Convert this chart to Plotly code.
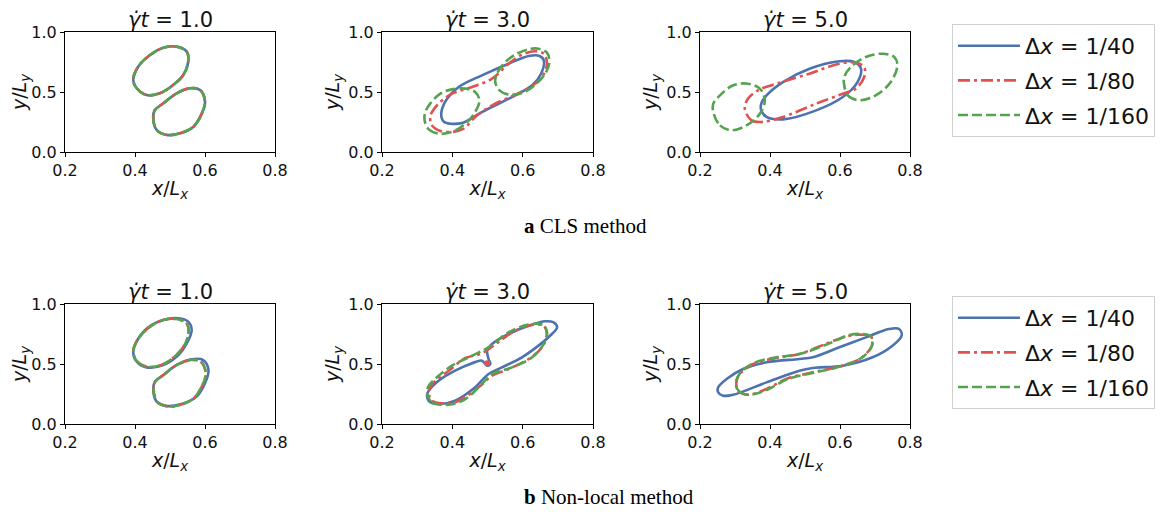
import plotly.graph_objects as go

FONT = "DejaVu Sans"
SERIF = "Liberation Serif"

SERIES = ["Δ<i>x</i> = 1/40", "Δ<i>x</i> = 1/80", "Δ<i>x</i> = 1/160"]
COLORS = ["#4C72B0", "#E05252", "#55A24F"]
DASHES = ["solid", "12px,4px,3px,4px", "10px,4px"]
TIMES = ["1.0", "3.0", "5.0"]
X_TICKS = [0.2, 0.4, 0.6, 0.8]
Y_TICKS = [0.0, 0.5, 1.0]

# ---------------- CLS method, t = 1 (all resolutions nearly coincide) ----------------
CLS1_UP_X = [0.395, 0.405, 0.433, 0.471, 0.509, 0.538, 0.552, 0.548, 0.519, 0.481, 0.443, 0.409, 0.395]
CLS1_UP_Y = [0.600, 0.531, 0.475, 0.489, 0.558, 0.642, 0.753, 0.836, 0.878, 0.869, 0.808, 0.711, 0.600]
CLS1_LO_X = [0.452, 0.462, 0.491, 0.529, 0.567, 0.591, 0.600, 0.586, 0.557, 0.519, 0.481, 0.457, 0.452]
CLS1_LO_Y = [0.294, 0.183, 0.142, 0.156, 0.211, 0.322, 0.419, 0.517, 0.531, 0.489, 0.406, 0.350, 0.294]

# ---------------- CLS method, t = 3 ----------------
CLS3_BLUE_X = [0.369, 0.375, 0.395, 0.430, 0.484, 0.579, 0.627, 0.652, 0.660, 0.648, 0.617, 0.560, 0.484, 0.418, 0.385, 0.371, 0.369]
CLS3_BLUE_Y = [0.292, 0.255, 0.236, 0.244, 0.333, 0.472, 0.556, 0.650, 0.764, 0.800, 0.800, 0.736, 0.639, 0.542, 0.444, 0.361, 0.292]
CLS3_RED_X = [0.337, 0.342, 0.366, 0.399, 0.432, 0.465, 0.513, 0.579, 0.622, 0.655, 0.669, 0.660, 0.636, 0.598, 0.560, 0.513, 0.456, 0.399, 0.361, 0.342, 0.337]
CLS3_RED_Y = [0.292, 0.222, 0.175, 0.167, 0.194, 0.292, 0.389, 0.478, 0.542, 0.625, 0.736, 0.819, 0.839, 0.811, 0.736, 0.611, 0.542, 0.486, 0.403, 0.333, 0.292]
CLS3_GREEN_A_X = [0.321, 0.333, 0.361, 0.399, 0.437, 0.465, 0.477, 0.465, 0.437, 0.399, 0.366, 0.337, 0.323, 0.321]
CLS3_GREEN_A_Y = [0.264, 0.189, 0.153, 0.167, 0.236, 0.333, 0.431, 0.500, 0.528, 0.522, 0.486, 0.403, 0.333, 0.264]
CLS3_GREEN_B_X = [0.522, 0.534, 0.560, 0.598, 0.636, 0.664, 0.676, 0.669, 0.645, 0.617, 0.579, 0.546, 0.527, 0.522]
CLS3_GREEN_B_Y = [0.583, 0.514, 0.478, 0.492, 0.561, 0.653, 0.750, 0.828, 0.861, 0.856, 0.811, 0.736, 0.653, 0.583]

# ---------------- CLS method, t = 5 ----------------
CLS5_BLUE_X = [0.375, 0.390, 0.437, 0.532, 0.608, 0.650, 0.660, 0.641, 0.598, 0.513, 0.437, 0.390, 0.375, 0.375]
CLS5_BLUE_Y = [0.347, 0.292, 0.272, 0.347, 0.458, 0.583, 0.694, 0.750, 0.756, 0.694, 0.583, 0.472, 0.403, 0.347]
CLS5_RED_X = [0.328, 0.347, 0.375, 0.437, 0.532, 0.608, 0.645, 0.669, 0.669, 0.645, 0.598, 0.513, 0.418, 0.366, 0.337, 0.328]
CLS5_RED_Y = [0.361, 0.264, 0.250, 0.292, 0.403, 0.486, 0.528, 0.625, 0.708, 0.744, 0.736, 0.653, 0.569, 0.514, 0.444, 0.361]
CLS5_GREEN_A_X = [0.238, 0.257, 0.290, 0.333, 0.371, 0.385, 0.371, 0.337, 0.295, 0.257, 0.238, 0.238]
CLS5_GREEN_A_Y = [0.333, 0.222, 0.181, 0.222, 0.319, 0.431, 0.528, 0.569, 0.556, 0.472, 0.403, 0.333]
CLS5_GREEN_B_X = [0.612, 0.622, 0.655, 0.702, 0.745, 0.764, 0.755, 0.721, 0.674, 0.631, 0.612, 0.612]
CLS5_GREEN_B_Y = [0.556, 0.472, 0.431, 0.472, 0.583, 0.722, 0.792, 0.819, 0.792, 0.708, 0.625, 0.556]

# ---------------- Non-local method, t = 1 ----------------
NL1_BLUE_UP_X = [0.395, 0.405, 0.433, 0.481, 0.524, 0.548, 0.562, 0.552, 0.524, 0.481, 0.438, 0.407, 0.395]
NL1_BLUE_UP_Y = [0.603, 0.519, 0.472, 0.492, 0.575, 0.672, 0.783, 0.853, 0.881, 0.867, 0.806, 0.700, 0.603]
NL1_BLUE_LO_X = [0.452, 0.462, 0.491, 0.533, 0.576, 0.600, 0.610, 0.595, 0.562, 0.519, 0.481, 0.457, 0.452]
NL1_BLUE_LO_Y = [0.297, 0.186, 0.150, 0.167, 0.228, 0.339, 0.450, 0.533, 0.539, 0.492, 0.408, 0.353, 0.297]
NL1_UP_X = [0.395, 0.405, 0.433, 0.476, 0.514, 0.540, 0.553, 0.547, 0.517, 0.478, 0.441, 0.408, 0.395]
NL1_UP_Y = [0.603, 0.525, 0.478, 0.492, 0.565, 0.650, 0.760, 0.840, 0.875, 0.865, 0.806, 0.705, 0.603]
NL1_LO_X = [0.453, 0.463, 0.492, 0.530, 0.568, 0.593, 0.602, 0.588, 0.558, 0.519, 0.481, 0.458, 0.453]
NL1_LO_Y = [0.297, 0.186, 0.147, 0.160, 0.215, 0.325, 0.425, 0.520, 0.533, 0.490, 0.408, 0.353, 0.297]

# ---------------- Non-local method, t = 3 ----------------
NL3_BLUE_X = [0.328, 0.337, 0.366, 0.408, 0.465, 0.503, 0.541, 0.598, 0.645, 0.683, 0.698, 0.688, 0.664, 0.617, 0.560, 0.513, 0.499, 0.503, 0.508, 0.499, 0.484, 0.456, 0.408, 0.361, 0.333, 0.328]
NL3_BLUE_Y = [0.236, 0.181, 0.167, 0.194, 0.306, 0.417, 0.472, 0.556, 0.653, 0.750, 0.806, 0.847, 0.856, 0.819, 0.750, 0.667, 0.611, 0.542, 0.500, 0.486, 0.528, 0.506, 0.444, 0.361, 0.278, 0.236]
NL3_RED_X = [0.333, 0.342, 0.371, 0.408, 0.475, 0.513, 0.560, 0.617, 0.655, 0.669, 0.660, 0.631, 0.579, 0.530, 0.484, 0.437, 0.390, 0.352, 0.337, 0.333]
NL3_RED_Y = [0.250, 0.194, 0.172, 0.181, 0.306, 0.403, 0.458, 0.542, 0.639, 0.750, 0.819, 0.828, 0.778, 0.680, 0.589, 0.550, 0.444, 0.361, 0.306, 0.250]
NL3_RED_DOT_X = [0.499]
NL3_RED_DOT_Y = [0.506]
NL3_GREEN_X = [0.328, 0.342, 0.390, 0.437, 0.484, 0.513, 0.570, 0.627, 0.660, 0.669, 0.655, 0.617, 0.560, 0.503, 0.456, 0.399, 0.356, 0.333, 0.328]
NL3_GREEN_Y = [0.264, 0.181, 0.161, 0.208, 0.333, 0.417, 0.472, 0.556, 0.667, 0.764, 0.828, 0.828, 0.764, 0.639, 0.569, 0.486, 0.389, 0.319, 0.264]

# ---------------- Non-local method, t = 5 ----------------
NL5_BLUE_X = [0.252, 0.266, 0.295, 0.390, 0.484, 0.522, 0.608, 0.693, 0.750, 0.776, 0.769, 0.740, 0.674, 0.598, 0.522, 0.484, 0.390, 0.323, 0.276, 0.252, 0.252]
NL5_BLUE_Y = [0.264, 0.236, 0.244, 0.347, 0.444, 0.467, 0.486, 0.556, 0.653, 0.736, 0.792, 0.792, 0.722, 0.639, 0.556, 0.542, 0.514, 0.458, 0.375, 0.306, 0.264]
NL5_RED_X = [0.304, 0.309, 0.337, 0.390, 0.446, 0.522, 0.608, 0.664, 0.693, 0.688, 0.664, 0.627, 0.570, 0.484, 0.418, 0.352, 0.314, 0.304]
NL5_RED_Y = [0.347, 0.278, 0.244, 0.292, 0.375, 0.431, 0.486, 0.556, 0.667, 0.731, 0.744, 0.736, 0.681, 0.583, 0.550, 0.500, 0.417, 0.347]
NL5_GREEN_X = [0.302, 0.312, 0.337, 0.390, 0.451, 0.522, 0.608, 0.664, 0.691, 0.688, 0.664, 0.627, 0.570, 0.484, 0.418, 0.352, 0.314, 0.302]
NL5_GREEN_Y = [0.333, 0.272, 0.244, 0.283, 0.375, 0.425, 0.486, 0.556, 0.653, 0.731, 0.750, 0.742, 0.672, 0.583, 0.556, 0.506, 0.422, 0.333]

# panel -> series index -> list of closed contours
PANELS = {
    (0, 0): [[(CLS1_UP_X, CLS1_UP_Y), (CLS1_LO_X, CLS1_LO_Y)],
             [(CLS1_UP_X, CLS1_UP_Y), (CLS1_LO_X, CLS1_LO_Y)],
             [(CLS1_UP_X, CLS1_UP_Y), (CLS1_LO_X, CLS1_LO_Y)]],
    (0, 1): [[(CLS3_BLUE_X, CLS3_BLUE_Y)],
             [(CLS3_RED_X, CLS3_RED_Y)],
             [(CLS3_GREEN_A_X, CLS3_GREEN_A_Y), (CLS3_GREEN_B_X, CLS3_GREEN_B_Y)]],
    (0, 2): [[(CLS5_BLUE_X, CLS5_BLUE_Y)],
             [(CLS5_RED_X, CLS5_RED_Y)],
             [(CLS5_GREEN_A_X, CLS5_GREEN_A_Y), (CLS5_GREEN_B_X, CLS5_GREEN_B_Y)]],
    (1, 0): [[(NL1_BLUE_UP_X, NL1_BLUE_UP_Y), (NL1_BLUE_LO_X, NL1_BLUE_LO_Y)],
             [(NL1_UP_X, NL1_UP_Y), (NL1_LO_X, NL1_LO_Y)],
             [(NL1_UP_X, NL1_UP_Y), (NL1_LO_X, NL1_LO_Y)]],
    (1, 1): [[(NL3_BLUE_X, NL3_BLUE_Y)],
             [(NL3_RED_X, NL3_RED_Y)],
             [(NL3_GREEN_X, NL3_GREEN_Y)]],
    (1, 2): [[(NL5_BLUE_X, NL5_BLUE_Y)],
             [(NL5_RED_X, NL5_RED_Y)],
             [(NL5_GREEN_X, NL5_GREEN_Y)]],
}

# page is rendered with an 8px body margin -> figure sits at (8, 8)
OFF = 8
W, H = 1169 - OFF, 512 - OFF
X_PIX = [(65, 275), (382, 593), (700, 910)]   # page pixels
Y_PIX = [(32, 152), (304, 424)]


def fx(px):
    return (px - OFF) / W


def fy(py):
    return 1 - (py - OFF) / H


fig = go.Figure()

for (r, c), series in PANELS.items():
    k = r * 3 + c + 1
    xa = "x" if k == 1 else f"x{k}"
    ya = "y" if k == 1 else f"y{k}"
    for s, contours in enumerate(series):
        for j, (xs, ys) in enumerate(contours):
            fig.add_trace(go.Scatter(
                x=xs, y=ys, mode="lines", xaxis=xa, yaxis=ya,
                line=dict(color=COLORS[s], width=2.6, dash=DASHES[s], shape="spline", smoothing=1.0),
                name=SERIES[s], legendgroup=f"r{r}s{s}",
                showlegend=(c == 0 and j == 0),
                legend="legend" if r == 0 else "legend2",
                hoverinfo="skip"))
        if (r, c) == (1, 1) and s == 1:
            fig.add_trace(go.Scatter(
                x=NL3_RED_DOT_X, y=NL3_RED_DOT_Y, mode="markers", xaxis=xa, yaxis=ya,
                marker=dict(color=COLORS[1], size=6), showlegend=False,
                legendgroup=f"r{r}s{s}", legend="legend2", hoverinfo="skip"))

    x0, x1 = X_PIX[c]
    y0, y1 = Y_PIX[r]
    axis_common = dict(showline=True, linecolor="black", linewidth=1, mirror=True,
                       ticks="outside", ticklen=4, tickcolor="black", showgrid=False,
                       zeroline=False, automargin=False,
                       tickfont=dict(family=FONT, size=16, color="#111"),
                       tickformat=".1f")
    fig.layout[f"xaxis{'' if k == 1 else k}"] = dict(
        domain=[fx(x0), fx(x1)], range=[0.2, 0.8], tickvals=X_TICKS,
        anchor=ya,
        title=dict(text="<i>x</i>/<i>L</i><sub><i>x</i></sub>", standoff=2,
                   font=dict(family=FONT, size=19, color="#111")),
        **axis_common)
    fig.layout[f"yaxis{'' if k == 1 else k}"] = dict(
        domain=[fy(y1), fy(y0)], range=[0, 1], tickvals=Y_TICKS,
        anchor=xa,
        title=dict(text="<i>y</i>/<i>L</i><sub><i>y</i></sub>", standoff=3,
                   font=dict(family=FONT, size=19, color="#111")),
        **axis_common)
    fig.add_annotation(
        text=f"<i>γ̇t</i> = {TIMES[c]}", xref="paper", yref="paper",
        x=fx((x0 + x1) / 2), y=fy(y0 + 2), xanchor="center", yanchor="bottom",
        showarrow=False, font=dict(family=FONT, size=21, color="#111"))

fig.add_annotation(text="<b>a</b> CLS method", xref="paper", yref="paper",
                   x=fx(522), y=fy(226), xanchor="left", yanchor="middle",
                   showarrow=False, font=dict(family=SERIF, size=21, color="black"))
fig.add_annotation(text="<b>b</b> Non-local method", xref="paper", yref="paper",
                   x=fx(522), y=fy(497), xanchor="left", yanchor="middle",
                   showarrow=False, font=dict(family=SERIF, size=21, color="black"))

legend_style = dict(font=dict(family=FONT, size=22, color="#111"), bgcolor="white",
                    bordercolor="#d0d0d0", borderwidth=1, xanchor="left", yanchor="top",
                    traceorder="grouped", tracegroupgap=3, itemwidth=62)
fig.update_layout(
    width=W, height=H, margin=dict(l=0, r=0, t=0, b=0),
    paper_bgcolor="white", plot_bgcolor="white",
    legend=dict(x=fx(952), y=fy(24), **legend_style),
    legend2=dict(x=fx(952), y=fy(296), **legend_style),
)

fig.write_html("out.html")
